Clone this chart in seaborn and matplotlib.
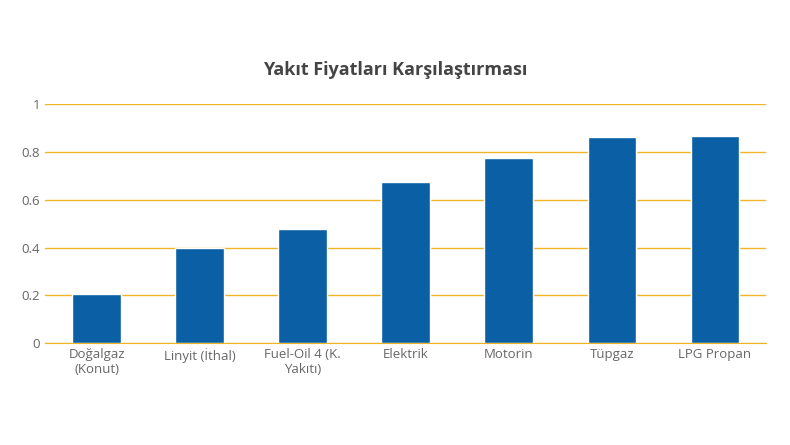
import matplotlib
matplotlib.use("Agg")
import matplotlib.pyplot as plt
import seaborn as sns
import pandas as pd

yakitlar = ["Doğalgaz\n(Konut)", "Linyit (İthal)", "Fuel-Oil 4 (K.\nYakıtı)", "Elektrik",
            "Motorin", "Tüpgaz", "LPG Propan"]
fiyatlar = [0.205, 0.40, 0.476, 0.674, 0.773, 0.862, 0.866]

df = pd.DataFrame({"Yakit": yakitlar, "Fiyat": fiyatlar})

sns.set_style("white")
plt.rcParams["font.family"] = ["Open Sans", "DejaVu Sans"]

fig = plt.figure(figsize=(7.9, 4.45), dpi=100)
ax = fig.add_axes([0.057, 0.229, 0.913, 0.537])
sns.barplot(data=df, x="Yakit", y="Fiyat", color="#0b5fa5", width=0.47, saturation=1, ax=ax)

ax.set_ylim(0, 1)
ax.set_yticks([0, 0.2, 0.4, 0.6, 0.8, 1])
ax.set_yticklabels(["0", "0.2", "0.4", "0.6", "0.8", "1"])
ax.yaxis.grid(True, color="#f0b429", linewidth=1)
ax.set_axisbelow(True)
for s in ["top", "right", "left"]:
    ax.spines[s].set_visible(False)
ax.spines["bottom"].set_color("#f0b429")
ax.tick_params(axis="both", length=0, labelsize=9.5, colors="#666666")
for lbl in ax.get_xticklabels():
    lbl.set_verticalalignment("top")
ax.set_xlabel("")
ax.set_ylabel("")
fig.text(0.5, 0.843, "Yakıt Fiyatları Karşılaştırması", ha="center", va="center",
         fontsize=13, fontweight="bold", color="#444444")

fig.savefig("out.png", dpi=100)
